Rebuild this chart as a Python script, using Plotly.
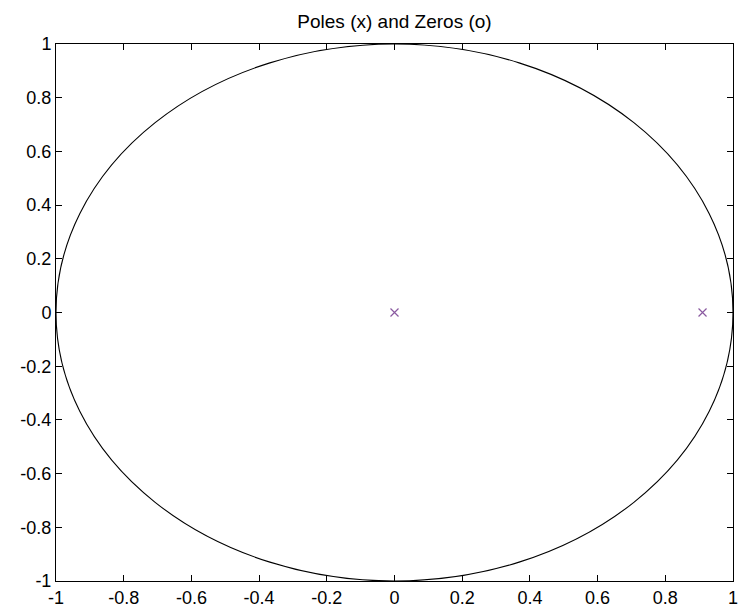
import plotly.graph_objects as go

# Data
pole_re = [0.0, 0.91]
pole_im = [0.0, 0.0]
circle_radius = 1.0
tick_vals = [-1, -0.8, -0.6, -0.4, -0.2, 0, 0.2, 0.4, 0.6, 0.8, 1]
tick_text = ["-1", "-0.8", "-0.6", "-0.4", "-0.2", "0", "0.2", "0.4", "0.6", "0.8", "1"]
title_text = "Poles (x) and Zeros (o)"

W, H = 738, 612

fig = go.Figure()
fig.add_trace(go.Scatter(
    x=pole_re, y=pole_im, mode="markers",
    marker=dict(symbol="x-thin-open", size=8, color="#8a5aa0",
                line=dict(color="#8a5aa0", width=1.2)),
    showlegend=False, hoverinfo="skip"))

fig.add_shape(type="circle", xref="x", yref="y",
              x0=-circle_radius, y0=-circle_radius, x1=circle_radius, y1=circle_radius,
              line=dict(color="black", width=1.1))

axis_common = dict(range=[-1, 1], tickvals=tick_vals, ticktext=tick_text,
                   ticks="inside", ticklen=6, tickwidth=1, tickcolor="black",
                   showline=True, linecolor="black", linewidth=1, mirror="allticks",
                   showgrid=False, zeroline=False, automargin=False,
                   ticklabeloverflow="allow",
                   tickfont=dict(family="Liberation Sans, Arial", size=18, color="black"))

fig.update_layout(
    width=W, height=H,
    margin=dict(l=56, r=5, t=44, b=31, autoexpand=False),
    paper_bgcolor="white", plot_bgcolor="white",
    title=dict(text=title_text, x=0.5, xref="paper", xanchor="center",
               y=1 - 21 / H, yref="container", yanchor="middle",
               font=dict(family="Liberation Sans, Arial", size=19, color="black")),
    xaxis=axis_common, yaxis=axis_common,
)

fig.write_html(
    "out.html",
    config={"displayModeBar": False},
    post_script="document.body.style.margin='0';document.body.style.overflow='hidden';",
)
